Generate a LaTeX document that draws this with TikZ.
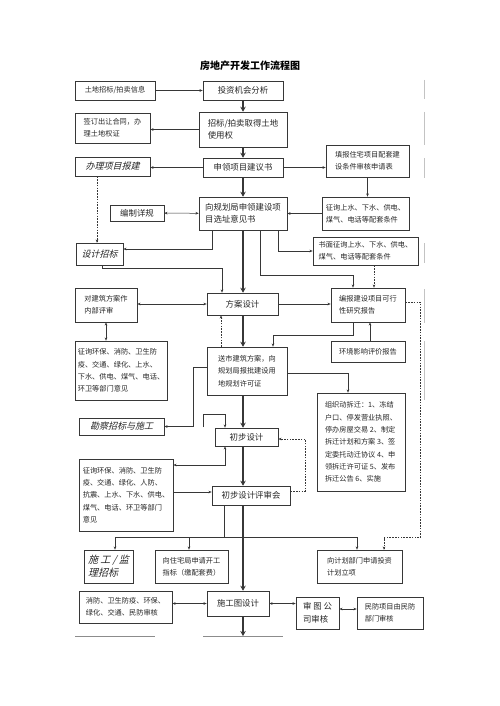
\documentclass[tikz,border=0pt]{standalone}
\usepackage{fontspec}
\setmainfont{Noto Sans CJK SC}
\newfontfamily\slantfont[FakeSlant=0.25]{Noto Sans CJK SC}
\usetikzlibrary{arrows.meta, positioning, calc}
\definecolor{lineblack}{RGB}{55,55,55}
\definecolor{edgegray}{RGB}{195,195,195}
\tikzset{
  flowbox/.style={draw=lineblack, line width=0.6pt, inner sep=2pt, align=left, text=black!85, font=\fontsize{7.2}{12.3}\selectfont},
  bigbox/.style={flowbox, font=\fontsize{8.4}{12.5}\selectfont},
  itbox/.style={flowbox, font=\slantfont\fontsize{9}{12.5}\selectfont},
  thinarr/.style={-{Stealth[length=3.2pt,width=2.6pt]}, line width=0.5pt, lineblack},
  twoarr/.style={{Stealth[length=3.2pt,width=2.6pt]}-{Stealth[length=3.2pt,width=2.6pt]}, line width=0.5pt, lineblack},
  dasharr/.style={thinarr, dash pattern=on 1.6pt off 1.2pt},
  plainline/.style={line width=0.5pt, lineblack},
  mainarr/.style={-{Stealth[length=5pt,width=5.5pt]}, line width=2.4pt, lineblack},
  edgeline/.style={edgegray, line width=0.6pt},
}
\begin{document}
\begin{tikzpicture}[x=1pt, y=-1pt]
  \fill[white] (0,0) rectangle (499,706);
  \useasboundingbox (0,0) rectangle (499,706);
  \coordinate (spine) at (243,0);
  % title
  \node[font=\fontsize{10}{12}\selectfont\bfseries] (title) at (250,66) {房地产开发工作流程图};
  % land and proposal stage
  \node[flowbox, minimum width=80pt, minimum height=19pt] (land) at (115,90.5) {土地招标/拍卖信息};
  \node[bigbox, minimum width=80pt, minimum height=19pt] (invest) at (243,90.5) {投资机会分析};
  \node[flowbox, minimum width=75pt, minimum height=30pt] (deed) at (112.5,128) {签订出让合同，办\\理土地权证};
  \node[bigbox, minimum width=88pt, minimum height=35pt] (landbid) at (243,129.5) {招标/拍卖取得土地\\使用权};
  \node[itbox, minimum width=75pt, minimum height=19pt] (permit) at (112.5,166.5) {办理项目报建};
  \node[bigbox, minimum width=80pt, minimum height=19pt] (proposal) at (243,167.5) {申领项目建议书};
  \node[flowbox, minimum width=83pt, minimum height=32pt] (apply) at (367.5,161) {填报住宅项目配套建\\设条件审核申请表};
  \node[bigbox, minimum width=54pt, minimum height=16pt] (detail) at (137,213) {编制详规};
  \node[bigbox, minimum width=88pt, minimum height=33pt] (siteop) at (243,213.5) {向规划局申领建设项\\目选址意见书};
  \node[flowbox, minimum width=87pt, minimum height=33pt] (utility) at (365.5,213.5) {征询上水、下水、供电、\\煤气、电话等配套条件};
  \node[itbox, minimum width=47pt, minimum height=22pt] (designbid) at (99.5,254) {设计招标};
  \node[flowbox, minimum width=105pt, minimum height=28pt] (written) at (365.5,251) {书面征询上水、下水、供电、\\煤气、电话等配套条件};
  % scheme stage
  \node[flowbox, minimum width=62pt, minimum height=34pt] (review1) at (106,305) {对建筑方案作\\内部评审};
  \node[bigbox, minimum width=71pt, minimum height=22pt] (scheme) at (242.5,304) {方案设计};
  \node[flowbox, minimum width=74pt, minimum height=34pt] (feasible) at (368,305) {编报建设项目可行\\性研究报告};
  \node[flowbox, minimum width=74pt, minimum height=21pt] (envir) at (368,351.5) {环境影响评价报告};
  \node[flowbox, minimum width=80pt, minimum height=48pt] (landuse) at (247,371) {送市建筑方案，向\\规划局报批建设用\\地规划许可证};
  \node[flowbox, minimum width=92pt, minimum height=59pt] (dept1) at (121,370.5) {征询环保、消防、卫生防\\疫、交通、绿化、上水、\\下水、供电、煤气、电话、\\环卫等部门意见};
  % preliminary design stage
  \node[itbox, minimum width=85pt, minimum height=17pt] (survey) at (121.5,426.5) {勘察招标与施工};
  \node[bigbox, minimum width=63pt, minimum height=18pt] (prelim) at (246.5,437) {初步设计};
  \node[flowbox, minimum width=88pt, minimum height=98pt] (demol) at (361,442) {组织动拆迁：1、冻结\\户口、停发营业执照、\\停办房屋交易 2、制定\\拆迁计划和方案 3、签\\定委托动迁协议 4、申\\领拆迁许可证 5、发布\\拆迁公告 6、实施};
  \node[flowbox, minimum width=94pt, minimum height=72pt] (dept2) at (126,495) {征询环保、消防、卫生防\\疫、交通、绿化、人防、\\抗震、上水、下水、供电、\\煤气、电话、环卫等部门\\意见};
  \node[bigbox, minimum width=78pt, minimum height=19pt] (prereview) at (251,495.5) {初步设计评审会};
  % construction stage
  \node[itbox, font=\slantfont\fontsize{10}{13}\selectfont, minimum width=49pt, minimum height=33pt] (conbid) at (108.5,566.5) {施\ 工\ /\ 监\\理招标};
  \node[flowbox, minimum width=73pt, minimum height=33pt] (housing) at (191.5,566.5) {向住宅局申请开工\\指标（缴配套费）};
  \node[flowbox, minimum width=85pt, minimum height=33pt] (plan) at (359.5,566.5) {向计划部门申请投资\\计划立项};
  \node[flowbox, minimum width=93pt, minimum height=32pt] (fire) at (125.5,607) {消防、卫生防疫、环保、\\绿化、交通、民防审核};
  \node[bigbox, minimum width=62pt, minimum height=25pt] (drawing) at (238,603.5) {施工图设计};
  \node[bigbox, minimum width=43pt, minimum height=32pt] (audit) at (317.5,613) {审\ 图\ 公\\司审核};
  \node[flowbox, minimum width=66pt, minimum height=32pt] (civil) at (390,613) {民防项目由民防\\部门审核};
  % main spine
  \draw[mainarr] (invest) -- (landbid);
  \draw[mainarr] (landbid) -- (proposal);
  \draw[mainarr] (proposal) -- (siteop);
  \draw[mainarr] (siteop.south -| spine) -- (scheme.north -| spine);
  \draw[mainarr] (scheme.south -| spine) -- (landuse.north -| spine);
  \draw[mainarr] (landuse.south -| spine) -- (prelim.north -| spine);
  \draw[mainarr] (prelim.south -| spine) -- (prereview.north -| spine);
  \draw[mainarr] (prereview.south -| spine) -- (drawing.north -| spine);
  \coordinate (pagecut) at (243,636);
  \draw[mainarr] (drawing.south -| spine) -- (pagecut);
  % side connectors
  \draw[thinarr] (land) -- (invest);
  \draw[thinarr] (landbid.west) -- (landbid.west -| deed.east);
  \draw[thinarr] (proposal.west) -- (proposal.west -| permit.east);
  \draw[thinarr] (proposal.east) -- (proposal.east -| apply.west);
  \draw[thinarr] (apply.south) -- (apply.south |- utility.north);
  \draw[twoarr] (detail) -- (siteop);
  \draw[thinarr] (utility) -- (siteop);
  \draw[dasharr] ([xshift=-15.5pt]permit.south) -- ([xshift=-15.5pt]permit.south |- designbid.north);
  \draw[thinarr] ([xshift=-31pt]siteop.south) |- ([yshift=5pt]designbid.east);
  \draw[thinarr] ([xshift=35pt]siteop.south) |- (written.west);
  \draw[thinarr] ([xshift=17pt]siteop.south) -- ++(0,45) -| ([xshift=-15pt]feasible.north);
  \draw[thinarr] ([xshift=2.5pt]designbid.south) -- ++(0,3) -| ([xshift=-20.5pt]scheme.north);
  \draw[twoarr] (scheme.west -| review1.east) -- (scheme.west);
  \draw[thinarr] (scheme.east) -- (scheme.east -| feasible.west);
  \draw[dasharr] ([xshift=8.5pt]written.south) -- ([xshift=8.5pt]written.south |- feasible.north);
  \draw[thinarr] ([xshift=2pt]envir.north) -- ([xshift=2pt]feasible.south);
  \draw[thinarr] ([xshift=-15pt]feasible.south) -- ++(0,13) -| ([xshift=26pt]landuse.north);
  \draw[dasharr] ([xshift=-26pt]landuse.north) -- ([xshift=-26pt]landuse.north |- scheme.south);
  \draw[dasharr] ([yshift=3pt]feasible.east) -- ++(15,0) |- ([xshift=24.5pt,yshift=12pt]plan.north) -- ([xshift=24.5pt]plan.north);
  \draw[twoarr] (review1.south) -- (review1.south |- dept1.north);
  \draw[thinarr] ([yshift=4pt]landuse.west) -- ++(-13,0) |- (survey.east);
  \coordinate (surveyjoin) at (203,427);
  \draw[thinarr] (surveyjoin) -- ++(0,-13) -| ([xshift=-21.5pt]prelim.north);
  \draw[thinarr] ([yshift=-2pt]landuse.east) -| ([xshift=-13pt]demol.north);
  \draw[dasharr] ([yshift=4.5pt]prereview.east) -- ++(15,0) |- ([yshift=-2pt]prelim.east);
  \draw[twoarr] ([xshift=-21.5pt]prelim.south) |- ([yshift=30pt]dept2.east);
  \draw[thinarr] ([yshift=3pt]dept2.east) -- ([yshift=3pt]dept2.east -| prereview.west);
  \draw[plainline] ([xshift=-27pt]prereview.south) -- ++(0,32) coordinate (fork);
  \draw[thinarr] (fork) -| ([xshift=6.5pt]conbid.north);
  \draw[thinarr] (fork) -| ([xshift=-2.5pt]housing.north);
  \draw[thinarr] (fork) -| ([xshift=-2.5pt]plan.north);
  \draw[twoarr] (drawing.west -| fire.east) -- (drawing.west);
  \draw[twoarr] (drawing.east) -- (drawing.east -| audit.west);
  \draw[twoarr] ([yshift=4pt]audit.east) -- ([yshift=4pt]audit.east -| civil.west);
  % page edges
  \draw[black!45, line width=0.6pt] (75,636) -- (155,636);
  \draw[black!45, line width=0.6pt] (203,636) -- (283,636);
  \foreach \ya/\yb in {80/99, 112/145, 158/178, 243/263, 289/323, 341/400}
    \draw[edgeline] (424.5,\ya) -- (424.5,\yb);
\end{tikzpicture}
\end{document}
